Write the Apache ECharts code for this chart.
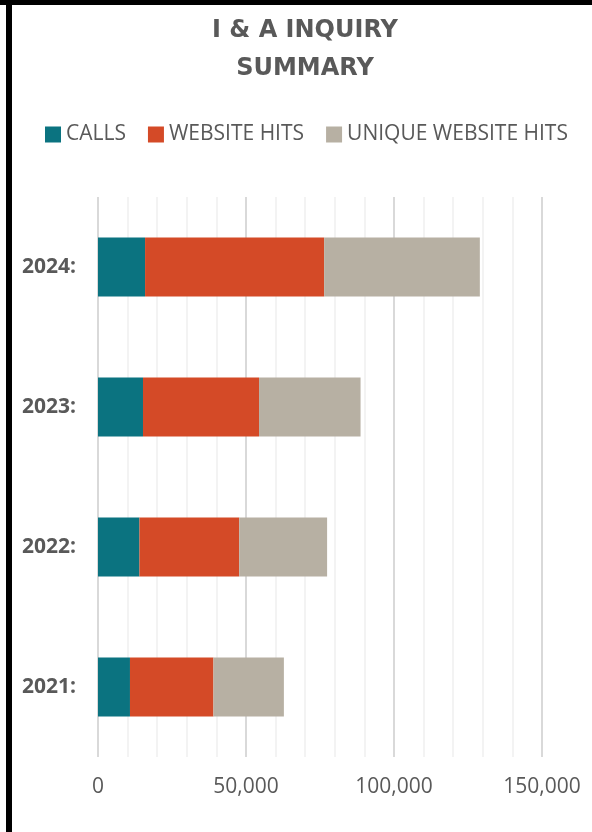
<!DOCTYPE html>
<html>
<head>
<meta charset="utf-8">
<script src="https://cdn.jsdelivr.net/npm/echarts@6/dist/echarts.min.js"></script>
<style>
  html, body { margin: 0; padding: 0; background: #fff; }
  #chart { width: 592px; height: 832px; }
  .edge-top { position: absolute; left: 0; top: 0; width: 592px; height: 5px; background: #000; }
  .edge-left { position: absolute; left: 6px; top: 0; width: 6px; height: 832px; background: #000; }
</style>
</head>
<body>
<div id="chart"></div>
<div class="edge-top"></div>
<div class="edge-left"></div>
<script>
const years = ['2021:', '2022:', '2023:', '2024:'];
const calls = [10800, 14000, 15200, 15900];
const websiteHits = [28200, 33700, 39200, 60500];
const uniqueHits = [23800, 29700, 34300, 52600];
const xTicks = [0, 50000, 100000, 150000];

const grey = '#595959';
const chart = echarts.init(document.getElementById('chart'));

const bar = (name, data, color) => ({
  name: name,
  type: 'bar',
  stack: 'total',
  data: data,
  barCategoryGap: '58%',
  itemStyle: { color: color },
  emphasis: { disabled: true }
});

chart.setOption({
  animation: false,
  title: {
    text: 'I & A INQUIRY\nSUMMARY',
    left: 305,
    top: 12,
    padding: 0,
    textAlign: 'center',
    textStyle: {
      fontFamily: 'DejaVu Sans',
      fontWeight: 'bold',
      fontSize: 24,
      lineHeight: 38,
      color: grey
    }
  },
  legend: {
    left: 45,
    top: 124,
    padding: 0,
    itemWidth: 16,
    itemHeight: 16,
    itemGap: 22,
    icon: 'rect',
    textStyle: { fontFamily: 'Open Sans', fontSize: 21, color: grey }
  },
  grid: { left: 98, right: 50, top: 197, bottom: 75 },
  xAxis: {
    type: 'value',
    min: xTicks[0],
    max: xTicks[xTicks.length - 1],
    interval: 50000,
    axisLine: { show: false },
    axisTick: { show: false },
    minorTick: { show: false, splitNumber: 5 },
    axisLabel: {
      margin: 20,
      fontFamily: 'Open Sans',
      fontSize: 21,
      color: grey,
      formatter: v => v.toLocaleString('en-US')
    },
    splitLine: { lineStyle: { color: '#d9d9d9', width: 2 } },
    minorSplitLine: { show: true, lineStyle: { color: '#efefef', width: 1.5 } }
  },
  yAxis: {
    type: 'category',
    data: years,
    axisLine: { show: false },
    axisTick: { show: false },
    axisLabel: {
      margin: 22,
      fontFamily: 'Open Sans',
      fontWeight: 'bold',
      fontSize: 21,
      color: grey
    }
  },
  series: [
    bar('CALLS', calls, '#0b7380'),
    bar('WEBSITE HITS', websiteHits, '#d44a27'),
    bar('UNIQUE WEBSITE HITS', uniqueHits, '#b7b0a3')
  ]
});
</script>
</body>
</html>
